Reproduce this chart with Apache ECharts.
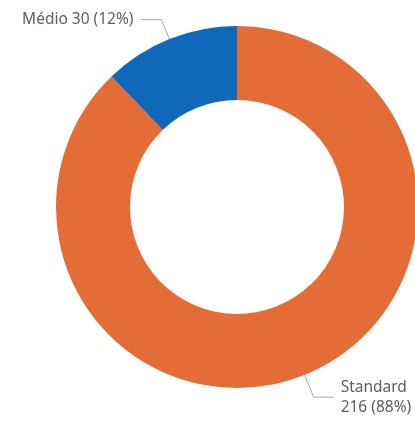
<!DOCTYPE html>
<html>
<head>
<meta charset="utf-8">
<script src="https://cdn.jsdelivr.net/npm/echarts@6/dist/echarts.min.js"></script>
<style>
html,body{margin:0;padding:0;background:#fff;}
#chart{width:415px;height:422px;}
</style>
</head>
<body>
<div id="chart"></div>
<script>
  // values
  const categories = ['Standard', 'Médio']
  const values = [216, 30]
  const colors = ['#E46C37', '#1068BB']

  let myChart = echarts.init(document.getElementById('chart'))
  let pieData = categories.map(function (name, i) {
    let item = { name: name, value: values[i], itemStyle: { color: colors[i] } }
    if (i === 0) {
      item.label = { formatter: '{b}\n{c} ({d}%)', align: 'left' }
      item.labelLine = { length: 24, length2: 20 }
    } else {
      item.label = { formatter: '{b} {c} ({d}%)' }
      item.labelLine = { length: 21, length2: 21 }
    }
    return item
  })

  let option = {
    animation: false,
    series: [
      {
        type: 'pie',
        center: [237, 207],
        radius: [107, 181],
        startAngle: 90,
        clockwise: true,
        percentPrecision: 0,
        avoidLabelOverlap: false,
        label: {
          show: true,
          position: 'outside',
          color: '#605E5C',
          fontFamily: 'Noto Sans',
          fontSize: 15.5,
          lineHeight: 20,
          distanceToLabelLine: 7
        },
        labelLine: {
          show: true,
          lineStyle: { color: '#A8A8A8', width: 1 }
        },
        data: pieData
      }
    ]
  }
  myChart.setOption(option)
</script>
</body>
</html>
